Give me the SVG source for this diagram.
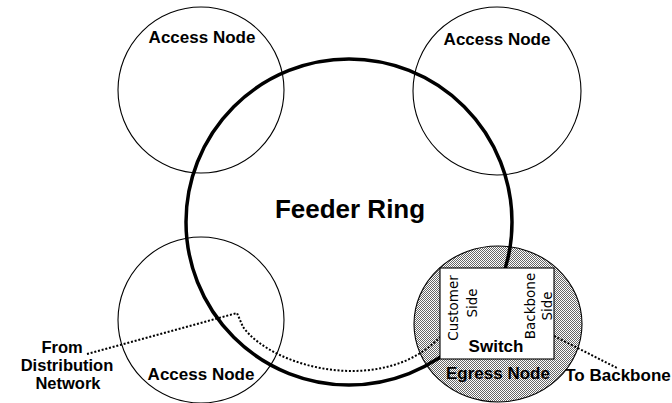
<svg xmlns="http://www.w3.org/2000/svg" width="672" height="403" viewBox="0 0 672 403">
<style>
.thin{fill:none;stroke:#000;stroke-width:1.1}
.ring{fill:none;stroke:#000;stroke-width:3.5}
.dot{fill:none;stroke:#000;stroke-width:2;stroke-dasharray:2 1.8}
.lb{font-family:"Liberation Sans",Arial,sans-serif;font-weight:bold;font-size:17px;fill:#000;text-anchor:middle}
.side{font-family:"DejaVu Sans",sans-serif;font-size:13.5px;fill:#000;text-anchor:middle}
</style>
<defs>
<pattern id="hatch" width="2" height="2" patternUnits="userSpaceOnUse">
<rect width="2" height="2" fill="#fff"/>
<rect width="1" height="1" fill="#666"/>
<rect x="1" y="1" width="1" height="1" fill="#666"/>
</pattern>
</defs>
<rect width="672" height="403" fill="#fff"/>
<g id="egress-node">
<ellipse cx="498" cy="324" rx="84" ry="78" fill="url(#hatch)" stroke="#000" stroke-width="1.1"/>
</g>
<g id="access-node-tl">
<circle class="thin" cx="201" cy="90" r="83"/>
<text class="lb" x="202" y="43">Access Node</text>
</g>
<g id="access-node-tr">
<circle class="thin" cx="497" cy="91" r="84"/>
<text class="lb" x="497" y="45">Access Node</text>
</g>
<g id="access-node-bl">
<circle class="thin" cx="201" cy="320" r="83"/>
<text class="lb" x="201" y="380">Access Node</text>
</g>
<g id="feeder-ring">
<circle class="ring" cx="349" cy="222" r="163"/>
<text class="lb" x="350" y="218" style="font-size:26px">Feeder Ring</text>
</g>
<g id="connectors">
<path class="dot" d="M87 354 L237 313 L243 327 C275 370 385 395 440 337"/>
<path class="dot" d="M554 336 L617 368"/>
</g>
<g id="switch">
<rect x="440" y="268" width="114" height="91" fill="#fff" stroke="#000" stroke-width="1.1"/>
<text class="side" transform="translate(458 308) rotate(-90)">Customer</text>
<text class="side" transform="translate(477 303) rotate(-90)">Side</text>
<text class="side" transform="translate(535 306) rotate(-90)">Backbone</text>
<text class="side" transform="translate(552 306) rotate(-90)">Side</text>
<text class="lb" x="496" y="352">Switch</text>
</g>
<g id="egress-label">
<text class="lb" x="498" y="379">Egress Node</text>
</g>
<g id="labels">
<text class="lb" x="62" y="353" style="font-size:16.5px">From</text>
<text class="lb" x="67" y="371" style="font-size:16.5px">Distribution</text>
<text class="lb" x="68" y="389" style="font-size:16.5px">Network</text>
<text class="lb" x="618" y="381">To Backbone</text>
</g>
</svg>
